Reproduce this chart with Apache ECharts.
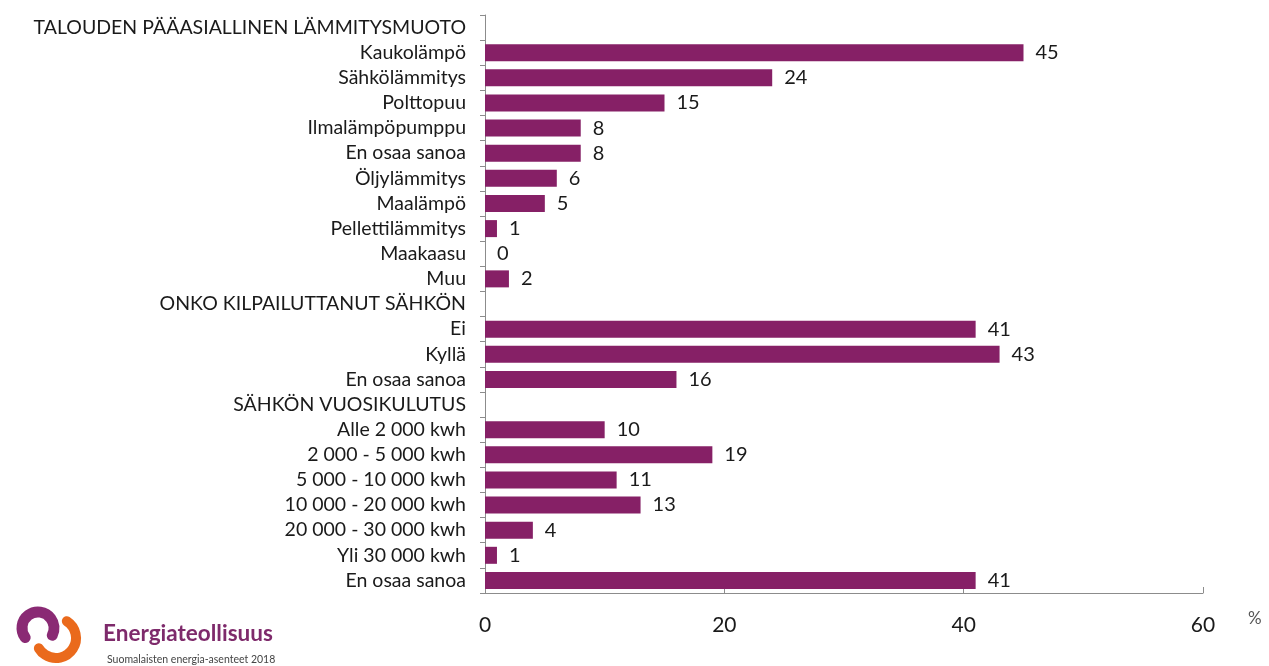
<!DOCTYPE html>
<html>
<head>
<meta charset="utf-8">
<script src="https://cdn.jsdelivr.net/npm/echarts@6/dist/echarts.min.js"></script>
<style>
html,body{margin:0;padding:0;background:#fff;}
#chart{width:1269px;height:666px;}
</style>
</head>
<body>
<div id="chart"></div>
<script>
// Survey categories, top to bottom (section headers have no value)
const categories = [
  'TALOUDEN PÄÄASIALLINEN LÄMMITYSMUOTO',
  'Kaukolämpö', 'Sähkölämmitys', 'Polttopuu', 'Ilmalämpöpumppu', 'En osaa sanoa',
  'Öljylämmitys', 'Maalämpö', 'Pellettilämmitys', 'Maakaasu', 'Muu',
  'ONKO KILPAILUTTANUT SÄHKÖN',
  'Ei', 'Kyllä', 'En osaa sanoa',
  'SÄHKÖN VUOSIKULUTUS',
  'Alle 2 000 kwh', '2 000 - 5 000 kwh', '5 000 - 10 000 kwh', '10 000 - 20 000 kwh',
  '20 000 - 30 000 kwh', 'Yli 30 000 kwh', 'En osaa sanoa'
];
// Share of respondents, %
const values = [
  null,
  45, 24, 15, 8, 8, 6, 5, 1, 0, 2,
  null,
  41, 43, 16,
  null,
  10, 19, 11, 13, 4, 1, 41
];
const xTicks = [0, 20, 40, 60];

const FONT = 'Lato, "Open Sans", sans-serif';
const chart = echarts.init(document.getElementById('chart'));
chart.setOption({
  animation: false,
  backgroundColor: '#fff',
  grid: { left: 485, right: 66, top: 15, bottom: 73, containLabel: false },
  xAxis: {
    type: 'value',
    min: xTicks[0], max: xTicks[xTicks.length - 1], interval: 20,
    splitLine: { show: false },
    axisLine: { show: true, lineStyle: { color: '#8c8c8c', width: 1 } },
    axisTick: { show: true, inside: true, length: 6, lineStyle: { color: '#8c8c8c' } },
    axisLabel: { color: '#1a1a1a', fontSize: 21, fontFamily: FONT, margin: 22 }
  },
  yAxis: {
    type: 'category',
    inverse: true,
    data: categories,
    axisLine: { show: true, lineStyle: { color: '#8c8c8c', width: 1 } },
    axisTick: { show: true, length: 5, interval: 0, lineStyle: { color: '#8c8c8c' } },
    axisLabel: { color: '#1a1a1a', fontSize: 19.5, fontFamily: FONT, margin: 19, interval: 0, hideOverlap: false }
  },
  series: [{
    type: 'bar',
    data: values,
    barWidth: 17,
    itemStyle: { color: '#862066' },
    label: {
      show: true,
      position: 'right',
      distance: 12,
      color: '#1a1a1a',
      fontSize: 20,
      fontFamily: FONT,
      formatter: p => (p.value == null ? '' : String(p.value))
    }
  }],
  graphic: [
    { type: 'text', left: 1248, top: 610,
      style: { text: '%', fill: '#555', fontSize: 17, fontFamily: FONT } },
    // Logo mark: purple hook and orange swoosh
    { type: 'arc',
      shape: { cx: 38, cy: 628, r: 16, startAngle: 2.5, endAngle: 6.75, clockwise: true },
      style: { stroke: '#8a2a74', lineWidth: 11, lineCap: 'round', fill: null } },
    { type: 'arc',
      shape: { cx: 56, cy: 638, r: 20, startAngle: -1.0, endAngle: 2.6, clockwise: true },
      style: { stroke: '#ea6a1c', lineWidth: 10, lineCap: 'round', fill: null } },
    { type: 'text', left: 103, top: 622,
      style: { text: 'Energiateollisuus', fill: '#7e2a6b', fontSize: 22.5, fontWeight: 'bold', fontFamily: FONT } },
    { type: 'text', left: 107, top: 654,
      style: { text: 'Suomalaisten energia-asenteet 2018', fill: '#444', fontSize: 10.5, fontFamily: FONT } }
  ]
});
</script>
</body>
</html>
